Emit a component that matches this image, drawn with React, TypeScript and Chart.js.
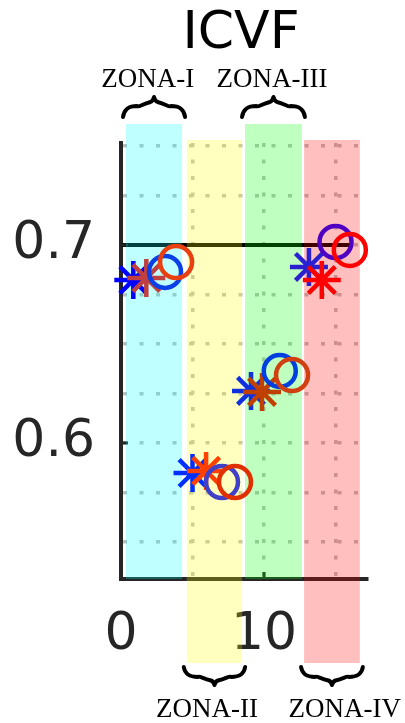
import React, { useEffect, useRef } from 'react';
import { Chart, registerables } from 'chart.js';

Chart.register(...registerables);

// ---- data ----
const zoneNames = ['ZONA-I', 'ZONA-II', 'ZONA-III', 'ZONA-IV'];
const zoneStart = [0.35, 4.6, 8.67, 12.8];
const zoneEnd = [4.27, 8.47, 12.65, 16.7];
const zoneLabelX = [1.87, 6.02, 10.56, 15.65];
const zoneSide = ['top', 'bottom', 'top', 'bottom'];
const zoneColors = ['rgba(0,255,255,0.25)', 'rgba(255,255,0,0.25)', 'rgba(0,255,0,0.25)', 'rgba(255,0,0,0.25)'];

const starAX = [0.86, 5.0, 9.09, 13.14];
const starAY = [0.6823, 0.5848, 0.6263, 0.6889];
const starBX = [1.77, 5.95, 9.86, 14.04];
const starBY = [0.6833, 0.5859, 0.6258, 0.6823];
const circAX = [3.08, 7.06, 11.1, 15.0];
const circAY = [0.6864, 0.5803, 0.6364, 0.7015];
const circBX = [3.85, 7.97, 11.96, 16.0];
const circBY = [0.6914, 0.5803, 0.6343, 0.6975];

const starAColors = ['#0000ff', '#0030ff', '#1030e0', '#2a20d0'];
const starBColors = ['#c04040', '#ff4000', '#c04000', '#ff0000'];
const circAColors = ['#0a40e6', '#4040c8', '#0040e0', '#5000c0'];
const circBColors = ['#e84010', '#e03000', '#d04010', '#ff0000'];

const refLineX = [0, 16.2];
const refLineY = [0.7, 0.7];

const xTickLabels = [0, 10];
const yTickLabels = [0.6, 0.7];

const titleText = 'ICVF';

const toPts = (xs: number[], ys: number[]) => xs.map((x, i) => ({ x, y: ys[i] }));

function drawBrace(ctx: CanvasRenderingContext2D, x1: number, x2: number, yEnd: number, yTip: number) {
  const h = yTip - yEnd;
  const yMid = yEnd + h * 0.55;
  const xm = (x1 + x2) / 2;
  const q = Math.min(9, (x2 - x1) / 7);
  ctx.beginPath();
  ctx.moveTo(x1, yEnd);
  ctx.bezierCurveTo(x1 + 1, yEnd + h * 0.35, x1 + q * 0.5, yMid, x1 + q * 1.6, yMid);
  ctx.bezierCurveTo((x1 + xm) / 2, yMid - h * 0.08, xm - q * 1.4, yMid + h * 0.08, xm - q * 0.4, yMid + h * 0.2);
  ctx.quadraticCurveTo(xm - 1, yTip - h * 0.2, xm, yTip);
  ctx.quadraticCurveTo(xm + 1, yTip - h * 0.2, xm + q * 0.4, yMid + h * 0.2);
  ctx.bezierCurveTo(xm + q * 1.4, yMid + h * 0.08, (x2 + xm) / 2, yMid - h * 0.08, x2 - q * 1.6, yMid);
  ctx.bezierCurveTo(x2 - q * 0.5, yMid, x2 - 1, yEnd + h * 0.35, x2, yEnd);
  ctx.stroke();
}

const decorPlugin = {
  id: 'decor',
  afterDatasetDraw(chart: any, args: any) {
    if (args.index !== 0) return;
    const { ctx } = chart;
    const xs = chart.scales.x;
    const ys = chart.scales.y;
    ctx.save();
    // inner ticks
    ctx.strokeStyle = '#262626';
    ctx.lineWidth = 3;
    xTickLabels.forEach((v) => {
      const px = xs.getPixelForValue(v);
      ctx.beginPath();
      ctx.moveTo(px, ys.bottom);
      ctx.lineTo(px, ys.bottom - 7);
      ctx.stroke();
    });
    yTickLabels.forEach((v) => {
      const py = ys.getPixelForValue(v);
      ctx.beginPath();
      ctx.moveTo(xs.left, py);
      ctx.lineTo(xs.left + 7, py);
      ctx.stroke();
    });
    // zone bands
    zoneStart.forEach((s, i) => {
      const x1 = xs.getPixelForValue(s);
      const x2 = xs.getPixelForValue(zoneEnd[i]);
      const top = zoneSide[i] === 'top' ? ys.top - 19 : ys.top - 3;
      const bottom = zoneSide[i] === 'top' ? ys.bottom : ys.bottom + 84;
      ctx.fillStyle = zoneColors[i];
      ctx.fillRect(x1, top, x2 - x1, bottom - top);
    });
    ctx.restore();
  },
  afterDraw(chart: any) {
    const { ctx } = chart;
    const xs = chart.scales.x;
    const ys = chart.scales.y;
    ctx.save();
    // title
    ctx.fillStyle = '#000';
    ctx.font = '52px "DejaVu Sans"';
    ctx.textAlign = 'center';
    ctx.textBaseline = 'alphabetic';
    ctx.fillText(titleText, (xs.left + xs.right) / 2 - 3, 48);
    // zone labels + braces
    ctx.font = '27px "Liberation Serif"';
    ctx.lineWidth = 4;
    ctx.strokeStyle = '#000';
    ctx.lineCap = 'round';
    ctx.lineJoin = 'round';
    zoneNames.forEach((name, i) => {
      const x1 = xs.getPixelForValue(zoneStart[i]) - 3;
      const x2 = xs.getPixelForValue(zoneEnd[i]) + 3;
      const lx = xs.getPixelForValue(zoneLabelX[i]);
      if (zoneSide[i] === 'top') {
        drawBrace(ctx, x1, x2, ys.top - 26, ys.top - 46);
        ctx.fillText(name, lx, ys.top - 56);
      } else {
        drawBrace(ctx, x1, x2, ys.bottom + 88, ys.bottom + 106);
        ctx.fillText(name, lx, ys.bottom + 138);
      }
    });
    ctx.restore();
  },
};

export default function App() {
  const ref = useRef<HTMLCanvasElement | null>(null);
  useEffect(() => {
    document.body.style.margin = '0';
    const canvas = ref.current;
    if (!canvas) return;
    const markerBase = {
      type: 'scatter' as const,
      showLine: false,
      clip: false as any,
      pointBackgroundColor: 'rgba(0,0,0,0)',
      pointBorderWidth: 4.5,
      pointHoverRadius: 0,
    };
    const chart = new Chart(canvas, {
      type: 'scatter',
      data: {
        datasets: [
          {
            type: 'line',
            label: 'ref',
            data: toPts(refLineX, refLineY),
            borderColor: '#000',
            borderWidth: 4,
            pointRadius: 0,
            order: 10,
          } as any,
          { ...markerBase, label: 'A*', data: toPts(starAX, starAY), pointStyle: 'star', pointRadius: 19, pointBorderColor: starAColors, order: 4 },
          { ...markerBase, label: 'B*', data: toPts(starBX, starBY), pointStyle: 'star', pointRadius: 19, pointBorderColor: starBColors, order: 3 },
          { ...markerBase, label: 'Ao', data: toPts(circAX, circAY), pointStyle: 'circle', pointRadius: 16, pointBorderColor: circAColors, order: 2 },
          { ...markerBase, label: 'Bo', data: toPts(circBX, circBY), pointStyle: 'circle', pointRadius: 16, pointBorderColor: circBColors, order: 1 },
        ] as any,
      },
      options: {
        responsive: false,
        animation: false,
        devicePixelRatio: 1,
        events: [],
        layout: { padding: { top: 143, right: 38, left: 0, bottom: 0 } },
        plugins: { legend: { display: false }, tooltip: { enabled: false }, title: { display: false } },
        scales: {
          x: {
            type: 'linear',
            position: 'bottom',
            min: 0,
            max: 17.2,
            afterFit: (s: any) => { s.height = 144; },
            ticks: {
              stepSize: 5,
              includeBounds: false,
              autoSkip: false,
              maxRotation: 0,
              padding: 25,
              color: '#262626',
              font: { family: '"DejaVu Sans"', size: 52 },
              callback: (v: any) => (xTickLabels.some((t) => Math.abs(t - v) < 1e-6) ? String(v) : ''),
            },
            grid: { color: 'rgb(190,190,190)', lineWidth: 3.5, drawTicks: false },
            border: { display: true, color: '#262626', width: 4, dash: [4, 12.5] },
          },
          y: {
            type: 'linear',
            min: 0.5313,
            max: 0.7515,
            afterFit: (s: any) => { s.width = 121; },
            ticks: {
              stepSize: 0.025,
              includeBounds: false,
              autoSkip: false,
              padding: 26,
              color: '#262626',
              font: { family: '"DejaVu Sans"', size: 52 },
              callback: (v: any) => {
                const t = yTickLabels.find((t) => Math.abs(t - v) < 1e-6);
                return t !== undefined ? t.toFixed(1) : '';
              },
            },
            grid: { color: 'rgb(190,190,190)', lineWidth: 3.5, drawTicks: false },
            border: { display: true, color: '#262626', width: 4, dash: [4, 12.5] },
          },
        },
      } as any,
      plugins: [decorPlugin],
    });
    return () => chart.destroy();
  }, []);
  return (
    <div style={{ width: 405, height: 723, background: '#fff' }}>
      <canvas ref={ref} width={405} height={723} style={{ display: 'block' }} />
    </div>
  );
}
